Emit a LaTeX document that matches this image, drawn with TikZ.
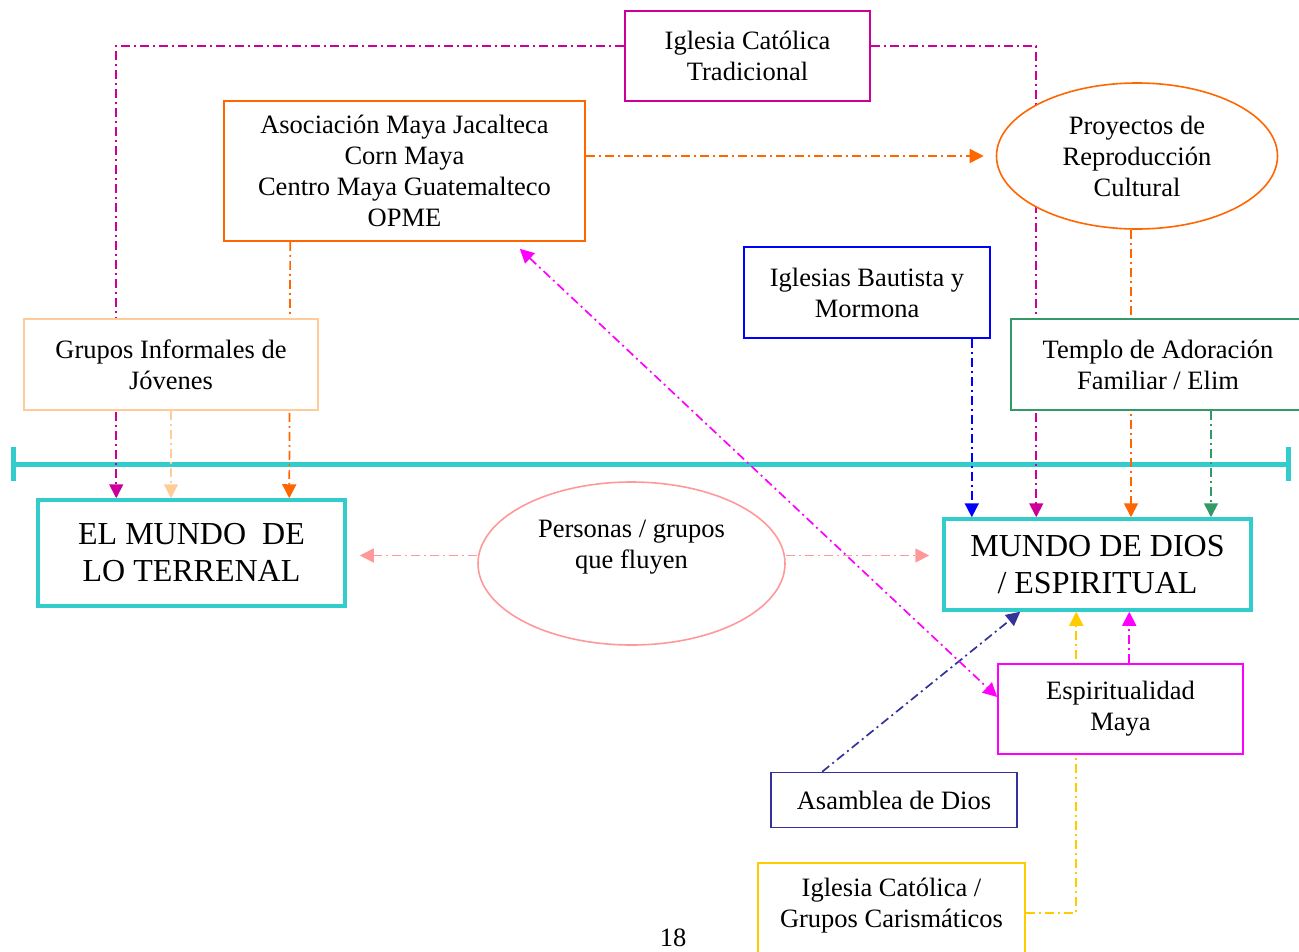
\documentclass[tikz,border=0pt]{standalone}
\usepackage{fontspec}
\setmainfont{Liberation Serif}
\usetikzlibrary{arrows.meta}
\usetikzlibrary{shapes.geometric, calc}
\usetikzlibrary{backgrounds}

\definecolor{turq}{HTML}{33CCCC}
\definecolor{tradmag}{HTML}{CC0099}
\definecolor{orng}{HTML}{FF6600}
\definecolor{peach}{HTML}{FFCC99}
\definecolor{azul}{HTML}{0000FF}
\definecolor{verde}{HTML}{339966}
\definecolor{rosa}{HTML}{FF9999}
\definecolor{magen}{HTML}{FF00FF}
\definecolor{marino}{HTML}{333399}
\definecolor{amar}{HTML}{FFCC00}

\begin{document}
\begin{tikzpicture}[x=1pt, y=-1pt,
  box/.style={draw, fill=white, line width=1.6pt, inner sep=0pt, align=center, font=\fontsize{26.5}{31}\selectfont},
  world/.style={box, draw=turq, line width=3.5pt, font=\fontsize{32}{37}\selectfont},
  txt/.style={align=center, inner sep=0pt, font=\fontsize{26.5}{31}\selectfont},
  flow/.style={line width=1.7pt, dash pattern=on 9pt off 4pt on 2pt off 4pt, -{Triangle[length=14pt,width=14pt]}},
  flowboth/.style={flow, {Triangle[length=14pt,width=14pt]}-{Triangle[length=14pt,width=14pt]}}]
\useasboundingbox (0,0) rectangle (1299,951);

%draw boxes
\node[box, draw=tradmag, minimum width=245, minimum height=90] (catTrad) at (747.5,56) {Iglesia Católica\\Tradicional};
\node[box, draw=orng, minimum width=361, minimum height=140] (asoc) at (404.5,171) {Asociación Maya Jacalteca\\Corn Maya\\Centro Maya Guatemalteco\\OPME};
\node[box, ellipse, draw=orng, minimum width=281, minimum height=146] (proy) at (1137,156) {Proyectos de\\Reproducción\\Cultural};
\node[box, draw=azul, minimum width=246, minimum height=91] (baut) at (867,292.5) {Iglesias Bautista y\\Mormona};
\node[box, draw=peach, minimum width=294, minimum height=91] (grupos) at (171,364.5) {Grupos Informales de\\Jóvenes};
\node[box, draw=verde, minimum width=294, minimum height=91] (templo) at (1158,364.5) {Templo de Adoración\\Familiar / Elim};

%draw the two worlds
\node[world, minimum width=307, minimum height=106] (terrenal) at (191.5,553) {EL MUNDO~~DE\\LO TERRENAL};
\node[world, minimum width=307, minimum height=91] (dios) at (1097.5,564.5) {MUNDO DE DIOS\\/ ESPIRITUAL};

%draw people in between
\node[box, ellipse, draw=rosa, minimum width=307, minimum height=163] (personas) at (631.5,563.5) {};
\node[txt] (personasTxt) at (631.5,547) {Personas / grupos\\que fluyen};

\node[box, draw=magen, minimum width=245, minimum height=90] (espir) at (1120.5,709) {Espiritualidad\\Maya};
\node[box, draw=marino, minimum width=246, minimum height=55] (asamb) at (894,800) {Asamblea de Dios};
\node[box, draw=amar, minimum width=267, minimum height=100, text depth=20pt] (caris) at (891.5,913) {Iglesia Católica /\\Grupos Carismáticos};
\node[txt] (pagina) at (673,938) {18};

%named ends
\coordinate (lineaIzq) at (11,464);
\coordinate (lineaDer) at (1291,464);
\coordinate (tradIzq) at ([yshift=10pt]catTrad.west);
\coordinate (tradDer) at ([yshift=10pt]catTrad.east);
\coordinate (asocPie) at ([xshift=67pt]asoc.south west);
\coordinate (asocEsq) at ([xshift=-66pt,yshift=-7pt]asoc.south east);
\coordinate (bautPie) at ([xshift=-19pt]baut.south east);
\coordinate (proyPie) at ([xshift=-6pt]proy.south);
\coordinate (temploPie) at ([xshift=53pt]templo.south);
\coordinate (terrIzq) at ([xshift=80pt]terrenal.north west);
\coordinate (terrDer) at ([xshift=253pt]terrenal.north west);
\coordinate (diosTrad) at ([xshift=94pt]dios.north west);
\coordinate (diosAmar) at ([xshift=134pt]dios.south west);
\coordinate (diosMag) at ([xshift=187pt]dios.south west);
\coordinate (diosMar) at ([xshift=78pt]dios.south west);
\coordinate (asambTop) at ([xshift=52pt]asamb.north west);
\coordinate (espirIzq) at ([yshift=12pt]espir.west);
\coordinate (persIzq) at ([yshift=8pt]personas.west);
\coordinate (persDer) at ([yshift=8pt]personas.east);
\coordinate (proyIzq) at ([xshift=-12pt]proy.west);

\begin{scope}[on background layer]
%draw divider
\draw[turq, line width=5pt, {Bar[width=34pt]}-{Bar[width=34pt]}] (lineaIzq) to (lineaDer);

%draw flows to the worlds
\draw[flow, tradmag] (tradIzq) -| (terrIzq);
\draw[flow, tradmag] (tradDer) -| (diosTrad);
\draw[flow, orng] (asocPie) to (terrDer);
\draw[flow, peach] (grupos.south) to (grupos.south |- terrenal.north);
\draw[flow, orng] (asoc.east |- proy.west) to (proyIzq);
\draw[flow, azul] (bautPie) to (bautPie |- dios.north);
\draw[flow, orng] (proyPie) to (proyPie |- dios.north);
\draw[flow, verde] (temploPie) to (temploPie |- dios.north);
\draw[flow, amar] (caris.east) -| (diosAmar);
\draw[flow, magen] (diosMag |- espir.north) to (diosMag);
\draw[flow, marino] (asambTop) to (diosMar);
\draw[flowboth, magen] (asocEsq) to (espirIzq);
\draw[flow, rosa] (persIzq) to ([xshift=13pt]persIzq -| terrenal.east);
\draw[flow, rosa] (persDer) to ([xshift=-13pt]persDer -| dios.west);
\end{scope}
\end{tikzpicture}
\end{document}
